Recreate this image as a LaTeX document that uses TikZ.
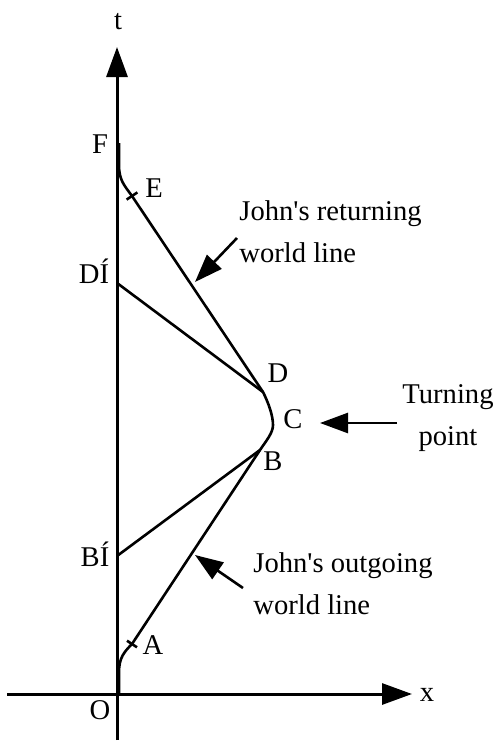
\documentclass[tikz,border=0pt]{standalone}
\usepackage{fontspec}
\setmainfont{Liberation Serif}
\usetikzlibrary{arrows.meta}

\begin{document}
\begin{tikzpicture}[
  x=0.5pt, y=-0.5pt,
  font=\fontsize{14.3}{21}\selectfont,
  axis/.style={draw=black, line width=1.5pt, -{Triangle[length=15pt,width=10.5pt]}},
  wline/.style={draw=black, line width=1.3pt},
  callout/.style={draw=black, line width=1.3pt, -{Triangle[length=14pt,width=10pt]}},
  lbl/.style={anchor=base, inner sep=0pt},
  note/.style={anchor=west, align=left, inner sep=0pt}
]
\useasboundingbox (0,0) rectangle (498,744);
% axes
\coordinate (O) at (117,694);
\coordinate (tbot) at (117,740);
\coordinate (ttip) at (117,47);
\coordinate (xleft) at (7,694);
\coordinate (xtip) at (412,694);
\draw[axis] (tbot) -- (ttip);
\draw[axis] (xleft) -- (xtip);
\node[lbl] (tlab) at (118,29) {t};
\node[lbl] (xlab) at (427,701) {x};
\node[lbl] (Olab) at (100,719) {O};
% events on the world line
\coordinate (start) at (119,694);
\coordinate (A) at (132,644);
\coordinate (B) at (260,450);
\coordinate (C) at (273,425);
\coordinate (D) at (263,392);
\coordinate (E) at (132,196);
\coordinate (F) at (119,143);
\coordinate (Bp) at (117,556);
\coordinate (Dp) at (117,283);
\draw[wline] (start) -- (119,672) .. controls (119,658) and (124,652) .. (A)
  -- (B) .. controls (266,441) and (273,433) .. (C)
  .. controls (273,415) and (268,402) .. (D)
  -- (E) .. controls (124,185) and (119,180) .. (119,165) -- (F);
\draw[wline] (A) ++(-5,-3.3) -- ++(10,6.6);
\draw[wline] (E) ++(-5.4,3.6) -- ++(10.8,-7.2);
\draw[wline] (Bp) -- (B);
\draw[wline] (Dp) -- (D);
\node[lbl] (Alab) at (153,654) {A};
\node[lbl] (Blab) at (273,470) {B};
\node[lbl] (Clab) at (293,428) {C};
\node[lbl] (Dlab) at (278,382) {D};
\node[lbl] (Elab) at (154,197) {E};
\node[lbl] (Flab) at (100,153) {F};
\node[lbl] (Bplab) at (95,566) {BÍ};
\node[lbl] (Dplab) at (94,283) {DÍ};
% callouts
\node[note] (ret) at (239,232) {John\textquotesingle s returning\\world line};
\node[note] (out) at (253,584) {John\textquotesingle s outgoing\\world line};
\node[align=center, inner sep=0pt] (turn) at (448,418) {Turning\\point};
\coordinate (rettail) at (237,238);
\coordinate (rettip) at (195,282);
\coordinate (outtail) at (243,588);
\coordinate (outtip) at (195,555);
\coordinate (turntail) at (397,423);
\coordinate (turntip) at (320,423);
\draw[callout] (rettail) -- (rettip);
\draw[callout] (outtail) -- (outtip);
\draw[callout] (turntail) -- (turntip);
\end{tikzpicture}
\end{document}
